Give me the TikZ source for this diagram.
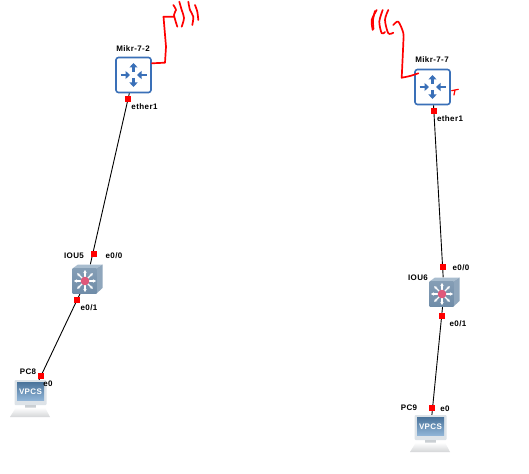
\documentclass[tikz,border=0pt]{standalone}
\usepackage{fontspec}
\setmainfont{Liberation Sans}
\usetikzlibrary{arrows.meta}
\definecolor{rblue}{HTML}{3A70B8}
\definecolor{swfront}{HTML}{6F8CA8}
\definecolor{swtop}{HTML}{A9BDCF}
\definecolor{swside}{HTML}{8FA6BC}
\definecolor{swcore}{HTML}{E0587A}
\definecolor{pcscreen}{HTML}{5F93C4}
\definecolor{pcbody}{HTML}{DDE3E8}
\definecolor{pcbase}{HTML}{D4D6D8}
\tikzset{
  x=1pt,y=-1pt,
  lbl/.style={font=\bfseries\fontsize{8}{8}\selectfont\addfontfeature{LetterSpace=5},text=black,inner sep=0pt},
  routerbox/.style={draw=rblue,line width=1.6pt,rounded corners=2.5pt,fill=white,minimum width=35pt,minimum height=35pt,inner sep=0pt},
  switchbox/.style={minimum width=31pt,minimum height=29pt,inner sep=0pt},
  pcbox/.style={minimum width=40pt,minimum height=37pt,inner sep=0pt},
  port/.style={fill=red,draw=none,minimum size=6.5pt,inner sep=0pt},
  link/.style={draw=black,line width=0.9pt},
  ink/.style={draw=red,line width=1.7pt,line cap=round,line join=round},
  rarrow/.style={draw=rblue,line width=2.2pt,-{Triangle[length=4.5pt,width=8pt]}},
  swarrow/.style={draw=white,line width=1.2pt,-{Stealth[length=3pt,width=3.5pt]}},
  router/.pic={
    \draw[rarrow] (0,-3) -- (0,-12);
    \draw[rarrow] (0,3) -- (0,12);
    \draw[rarrow] (-13,0) -- (-3.5,0);
    \draw[rarrow] (13,0) -- (3.5,0);
  },
  switchicon/.pic={
    \fill[swtop] (-14.5,-10.5) -- (-9,-14.5) -- (15.5,-14.5) -- (9.5,-10.5) -- cycle;
    \fill[swside] (9.5,-10.5) -- (15.5,-14.5) -- (15.5,9) -- (9.5,14.5) -- cycle;
    \shade[top color=swfront!85!white,bottom color=swfront] (-14.5,-10.5) rectangle (9.5,14.5);
    \foreach \a in {0,45,...,315}{
      \draw[swarrow] (-2,2) -- ++(\a:11);
    }
    \fill[swcore] (-2,2) circle (4.3);
  },
  pcicon/.pic={
    \fill[pcbody,rounded corners=1pt] (-15.5,-19) rectangle (16.5,6);
    \shade[top color=pcscreen!80!black,bottom color=pcscreen!70!white] (-13,-16.5) rectangle (14,1);
    \fill[pcbody!80!gray] (-5,6) rectangle (6,9);
    \shade[top color=white,bottom color=pcbase] (-14,8.5) -- (15,8.5) -- (20,18) -- (-20,18) -- cycle;
    \node[font=\bfseries\fontsize{8}{8}\selectfont\addfontfeature{LetterSpace=5},text=white,inner sep=0pt] at (0.5,-7.5) {VPCS};
  }
}
\begin{document}
\begin{tikzpicture}
\useasboundingbox (0,0) rectangle (529,473);
\fill[white] (0,0) rectangle (529,473);
% nodes
\node[routerbox] (r1) at (133.5,75) {};
\node[routerbox] (r2) at (432.5,87) {};
\node[switchbox] (s1) at (87,279) {};
\node[switchbox] (s2) at (444,292) {};
\node[pcbox] (p1) at (30,399) {};
\node[pcbox] (p2) at (430,434) {};
% links
\draw[link] (r1) -- (s1);
\draw[link] (s1) -- (p1);
\draw[link] (r2) -- (s2);
\draw[link] (s2) -- (p2);
% icons
\pic at (r1) {router};
\pic at (r2) {router};
\pic at (s1) {switchicon};
\pic at (s2) {switchicon};
\pic at (p1) {pcicon};
\pic at (p2) {pcicon};
% ports
\node[port] (pa) at (128,99) {};
\node[port] (pb) at (94,254) {};
\node[port] (pc) at (77,300) {};
\node[port] (pd) at (41,376) {};
\node[port] (pe) at (434,111) {};
\node[port] (pf) at (443,267) {};
\node[port] (pg) at (442,316) {};
\node[port] (ph) at (432,408) {};
% labels
\node[lbl] (l1) at (133,49) {Mikr-7-2};
\node[lbl] (l2) at (432,60) {Mikr-7-7};
\node[lbl] (l3) at (144.5,107) {ether1};
\node[lbl] (l4) at (450,119) {ether1};
\node[lbl] (l5) at (74,256) {IOU5};
\node[lbl] (l6) at (418,278) {IOU6};
\node[lbl] (l7) at (114,256) {e0/0};
\node[lbl] (l8) at (461,268) {e0/0};
\node[lbl] (l9) at (89,308) {e0/1};
\node[lbl] (l10) at (458,324) {e0/1};
\node[lbl] (l11) at (28,372) {PC8};
\node[lbl] (l12) at (48,384) {e0};
\node[lbl] (l13) at (409,408) {PC9};
\node[lbl] (l14) at (445,409) {e0};
% hand-drawn antennas
\draw[ink] (152,63.3) -- (165,62.7) -- (166,46.7) -- (163.5,16.7) -- (174,16.7);
\draw[ink] plot[smooth] coordinates {(173.3,5) (176,10) (174,15) (177.3,26.7)};
\draw[ink] plot[smooth] coordinates {(179.3,1.7) (181.7,10) (184,18) (181.7,26.7)};
\draw[ink] plot[smooth] coordinates {(188.3,1.7) (190,10) (193.3,16.7) (192.3,25)};
\draw[ink] plot[smooth] coordinates {(195,5) (197.3,11.7) (198.3,20)};
\draw[ink] plot[smooth] coordinates {(418.3,73.3) (410,76) (401.7,77.7)};
\draw[ink] plot[smooth] coordinates {(401.7,77.7) (403.3,43) (403.3,33) (398.3,21.7) (393.3,25)};
\draw[ink] plot[smooth] coordinates {(376.7,10) (371.7,20) (372.7,30)};
\draw[ink] plot[smooth] coordinates {(375,11) (373,20) (373.5,29)};
\draw[ink] plot[smooth] coordinates {(382.7,10) (379.3,21.7) (381.7,33.3) (385,32)};
\draw[ink] plot[smooth] coordinates {(388.3,10) (385,20) (388.3,33.3) (393.3,32.7)};
\draw[ink,line width=1.2pt] (451.7,90.7) -- (458.3,89.3) (455,90) -- (454,95);
\end{tikzpicture}
\end{document}
